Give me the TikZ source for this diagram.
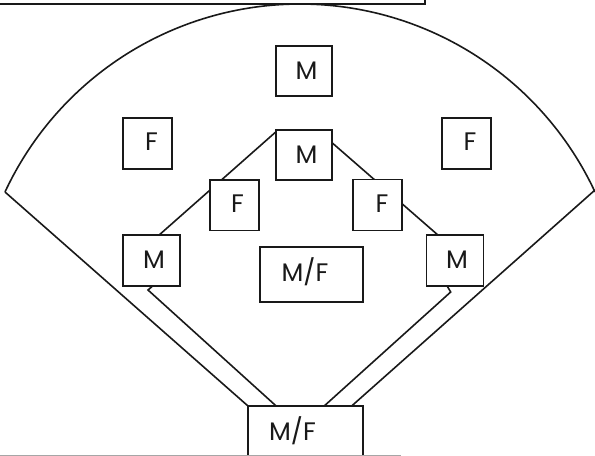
\documentclass[tikz,border=0pt]{standalone}
\usepackage{fontspec}
\setmainfont{Poppins}
\usetikzlibrary{backgrounds}
\tikzset{
  ln/.style={draw=black!90,line width=1.2pt,line join=miter},
  boxn/.style={ln,fill=white,inner sep=0pt,outer sep=0pt},
  sqa/.style={boxn,minimum width=42.4pt,minimum height=37.5pt},
  sqb/.style={boxn,minimum width=36.8pt,minimum height=38pt},
  sqc/.style={boxn,minimum width=42.5pt,minimum height=38pt},
  wide/.style={boxn,minimum width=77pt,minimum height=41pt},
  lab/.style={inner sep=0pt,font=\fontsize{19pt}{21pt}\selectfont,text=black!90},
}
\begin{document}
\begin{tikzpicture}[x=0.75pt,y=-0.75pt]
\useasboundingbox (0,0) rectangle (595,456);
\clip (0,0) rectangle (595,456);
% boxes
\node[sqa] (m1) at (304,71) {};
\node[sqa] (m2) at (304,155) {};
\node[sqb] (fl) at (147.5,143.5) {};
\node[sqb] (fr) at (466.7,143.5) {};
\node[sqb] (fil) at (234.4,205.3) {};
\node[sqb] (fir) at (377.5,205) {};
\node[sqc] (ml) at (151.5,260.5) {};
\node[sqc] (mr) at (455,260.5) {};
\node[wide] (mf) at (311.5,274.5) {};
\node[boxn,minimum width=86.25pt,minimum height=48.75pt] (home) at (305.5,438.5) {};
% labels
\node[lab] (t1) at (306.5,71) {M};
\node[lab] (t2) at (306.5,155) {M};
\node[lab] (t3) at (151.5,142) {F};
\node[lab] (t4) at (470,142) {F};
\node[lab] (t5) at (237.5,204) {F};
\node[lab] (t6) at (382,204) {F};
\node[lab] (t7) at (154,260) {M};
\node[lab] (t8) at (457,260) {M};
\node[lab] (t9) at (305,272) {M/F};
\node[lab] (t10) at (292.5,431) {M/F};
% free ends
\coordinate (lc) at (5,192);
\coordinate (rc) at (595,190);
\coordinate (lj) at (148,290);
\coordinate (rj) at (450.7,292);
\coordinate (gs) at (0,455.3);
\coordinate (ge) at (401,455.3);
\begin{pgfonlayer}{background}
\draw[ln] plot[domain=-65:65,samples=80,smooth] ({300+325.5*sin(\x)},{329.5-325.5*cos(\x)});
\draw[ln] (lc) -- (home.north west);
\draw[ln] (rc) -- ([xshift=34.6pt]home.north);
\draw[ln] ([yshift=-1.5pt]m2.north west) -- ([xshift=5.6pt]ml.north);
\draw[ln] ([yshift=-9.7pt]m2.north east) -- ([xshift=-12.7pt]mr.north);
\draw[ln] ([xshift=1pt]ml.south) -- (lj) -- ([xshift=-22pt]home.north);
\draw[ln] ([xshift=-6pt]mr.south) -- (rj) -- ([xshift=14pt]home.north);
\draw[ln,line width=0.9pt] ([xshift=-22pt]home.north) .. controls +(10pt,-6pt) and +(-10pt,-6pt) .. ([xshift=14pt]home.north);
\end{pgfonlayer}
% page fragments
\node[boxn,anchor=south east,minimum width=330pt,minimum height=20pt] (topbox) at (425,4) {};
\draw[draw=black!35,line width=1.1pt] (gs) -- (ge);
\end{tikzpicture}
\end{document}
